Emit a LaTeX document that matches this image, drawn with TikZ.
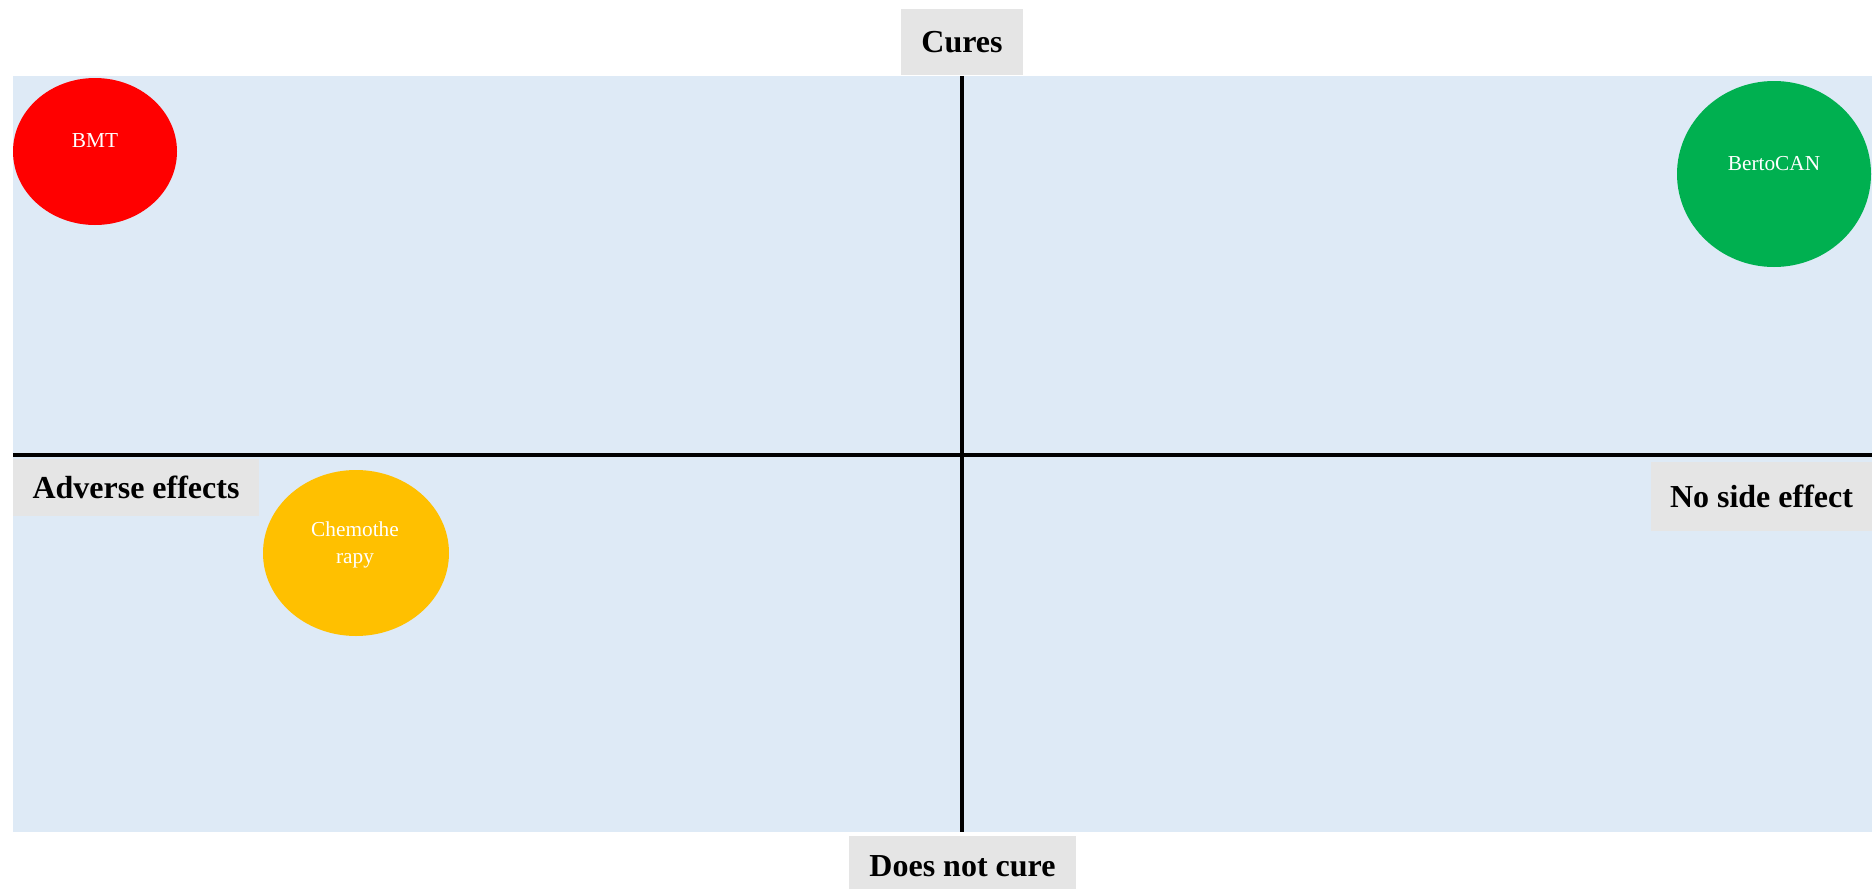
\documentclass[tikz,border=0pt]{standalone}
\usepackage{xcolor}
\usepackage{fontspec}
\setmainfont{Liberation Serif}
\usepackage{tikz}
\usetikzlibrary{shapes.geometric}

\definecolor{quadblue}{HTML}{DEEAF6}
\definecolor{tagfill}{HTML}{E5E5E5}
\definecolor{bmtred}{HTML}{FF0000}
\definecolor{bertogreen}{HTML}{00B050}
\definecolor{chemoyellow}{HTML}{FFC000}

\begin{document}
\begin{tikzpicture}[
    x=1pt, y=-1pt,
    tag/.style={fill=tagfill, inner sep=0pt, align=center,
                font=\fontsize{32}{38}\selectfont\bfseries},
    bubble/.style={ellipse, inner sep=0pt},
    bubbletext/.style={text=white, align=center, inner sep=0pt,
                font=\fontsize{21.3}{27}\selectfont},
    axis/.style={line width=4pt}
]
    \useasboundingbox (0,0) rectangle (1872,889);
    \fill[quadblue] (13,76) rectangle (1872,832);

    % axes
    \coordinate (ytop) at (962,76);
    \coordinate (ybot) at (962,832);
    \coordinate (xleft) at (13,455);
    \coordinate (xright) at (1872,455);
    \draw[axis] (ytop) -- (ybot);
    \draw[axis] (xleft) -- (xright);

    % axis tags
    \node[tag, minimum width=122, minimum height=66] (cures) at (962,42) {Cures};
    \node[tag, minimum width=227, minimum height=60] (nocure) at (962.5,866) {Does not cure};
    \node[tag, minimum width=246, minimum height=57] (adverse) at (136,487.5) {Adverse effects};
    \node[tag, minimum width=221, minimum height=69] (noside) at (1761.5,496.5) {No side effect};

    % treatments
    \node[bubble, fill=bmtred, minimum width=164, minimum height=147] (bmt) at (95,151.5) {};
    \node[bubbletext] (bmtlabel) at (95,140.5) {BMT};
    \node[bubble, fill=bertogreen, minimum width=194, minimum height=186] (berto) at (1774,174) {};
    \node[bubbletext] (bertolabel) at (1774,164) {BertoCAN};
    \node[bubble, fill=chemoyellow, minimum width=186, minimum height=166] (chemo) at (356,553) {};
    \node[bubbletext] (chemolabel) at (355,544.5) {Chemothe\\rapy};
\end{tikzpicture}
\end{document}
